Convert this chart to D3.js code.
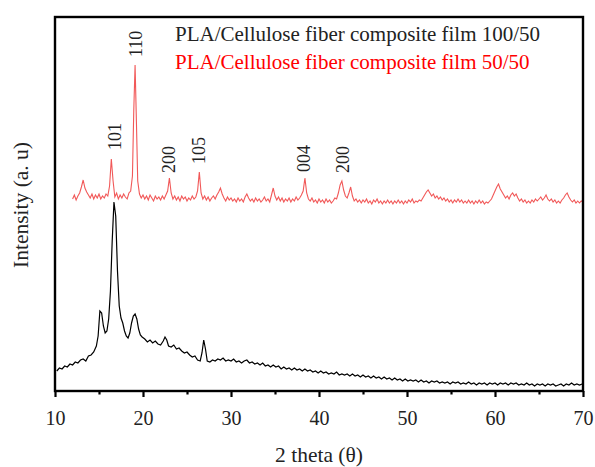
<!DOCTYPE html>
<html><head><meta charset="utf-8">
<script src="https://cdn.jsdelivr.net/npm/d3@7"></script>
<style>body{margin:0;background:#fff}svg{display:block}text{font-family:"Liberation Serif","Times New Roman",serif}</style>
</head><body><svg id="c" width="595" height="467"></svg>
<script>
// ---- data (intensity in arbitrary units, stacked offset included) ----
const xTicks = [10, 20, 30, 40, 50, 60, 70];
const xMinorTicks = [15, 25, 35, 45, 55, 65];
const legendLabels = ["PLA/Cellulose fiber composite film 100/50", "PLA/Cellulose fiber composite film 50/50"];
const peakLabels = ["101", "110", "200", "105", "004", "200"];
const peakLabelTheta = [16.8, 19.15, 22.9, 26.4, 38.35, 42.7];
const peakLabelLevel = [241, 334, 218, 227, 219, 218];

const film100 = [[10.2,20],[10.5,23],[10.8,22],[11.1,25],[11.4,24],[11.7,27],[12.0,26],[12.3,29],[12.6,28],[12.9,31],[13.2,32],[13.5,30],[13.8,35],[14.1,36],[14.4,39],[14.7,45],[14.9,55],[15.1,80],[15.3,78],[15.5,65],[15.7,58],[15.9,60],[16.1,72],[16.3,100],[16.5,150],[16.7,189],[16.9,175],[17.1,120],[17.3,85],[17.5,73],[17.7,68],[17.9,60],[18.1,55],[18.3,53],[18.5,58],[18.7,68],[18.9,75],[19.1,77],[19.3,72],[19.5,62],[19.7,56],[19.9,54],[20.2,52],[20.5,49],[20.8,51],[21.1,48],[21.4,50],[21.7,47],[22.0,46],[22.3,50],[22.5,54],[22.7,51],[22.9,45],[23.2,44],[23.5,46],[23.8,42],[24.1,43],[24.4,40],[24.7,38],[25.0,39],[25.3,36],[25.6,34],[25.9,35],[26.2,31],[26.5,30],[26.7,38],[26.9,51],[27.1,42],[27.3,30],[27.6,29],[27.9,31],[28.2,30],[28.5,32],[28.8,31],[29.1,33],[29.4,30],[29.7,31],[30.0,30],[30.3,32],[30.6,29],[30.9,30],[31.2,28],[31.5,30],[31.8,31],[32.1,28],[32.4,29],[32.7,27],[33.0,28],[33.3,26],[33.6,28],[33.9,25],[34.2,26],[34.5,24],[34.8,26],[35.1,24],[35.4,25],[35.7,22],[36.0,24],[36.3,22],[36.6,23],[36.9,21],[37.2,23],[37.5,21],[37.8,22],[38.1,20],[38.4,22],[38.7,20],[39.0,21],[39.3,19],[39.6,20],[39.9,18],[40.2,20],[40.5,18],[40.8,19],[41.1,17],[41.4,18],[41.7,17],[42.0,19],[42.3,16],[42.6,17],[42.9,16],[43.2,17],[43.5,15],[43.8,17],[44.1,15],[44.4,16],[44.7,14],[45.0,16],[45.3,14],[45.6,15],[45.9,13],[46.2,15],[46.5,13],[46.8,14],[47.1,12],[47.4,14],[47.7,12],[48.0,13],[48.3,11],[48.6,13],[48.9,11],[49.2,12],[49.5,10],[49.8,12],[50.1,10],[50.4,11],[50.7,10],[51.0,11],[51.3,9],[51.6,11],[51.9,9],[52.2,10],[52.5,8],[52.8,10],[53.1,9],[53.4,10],[53.7,8],[54.0,9],[54.3,8],[54.6,9],[54.9,7],[55.2,9],[55.5,8],[55.8,9],[56.1,7],[56.4,8],[56.7,7],[57.0,9],[57.3,7],[57.6,8],[57.9,6],[58.2,8],[58.5,7],[58.8,8],[59.1,6],[59.4,8],[59.7,7],[60.0,8],[60.3,6],[60.6,8],[60.9,7],[61.2,8],[61.5,6],[61.8,8],[62.1,7],[62.4,8],[62.7,6],[63.0,7],[63.3,6],[63.6,8],[63.9,6],[64.2,7],[64.5,5],[64.8,7],[65.1,6],[65.4,7],[65.7,5],[66.0,7],[66.3,6],[66.6,7],[66.9,5],[67.2,6],[67.5,7],[67.8,5],[68.1,7],[68.4,6],[68.7,8],[69.0,6],[69.3,7],[69.6,6],[69.9,7]];

const film50 = [[12.0,192],[12.2,196],[12.4,191],[12.6,195],[12.8,198],[13.0,204],[13.2,211],[13.4,203],[13.6,199],[13.8,196],[14.0,193],[14.2,197],[14.4,192],[14.6,196],[14.8,193],[15.0,197],[15.2,192],[15.4,195],[15.6,193],[15.8,197],[16.0,195],[16.2,205],[16.4,232],[16.6,210],[16.8,194],[17.0,198],[17.2,192],[17.4,196],[17.6,193],[17.8,197],[18.0,194],[18.2,192],[18.4,198],[18.6,200],[18.8,215],[18.95,280],[19.1,326],[19.25,270],[19.4,210],[19.6,197],[19.8,193],[20.0,196],[20.2,192],[20.4,195],[20.6,191],[20.8,196],[21.0,193],[21.2,190],[21.4,195],[21.6,192],[21.8,194],[22.0,191],[22.2,195],[22.4,192],[22.6,196],[22.8,200],[23.0,213],[23.2,198],[23.4,192],[23.6,195],[23.8,191],[24.0,194],[24.2,190],[24.4,195],[24.6,192],[24.8,194],[25.0,190],[25.2,193],[25.4,191],[25.6,195],[25.8,192],[26.0,194],[26.2,200],[26.4,219],[26.6,198],[26.8,192],[27.0,195],[27.2,191],[27.4,194],[27.6,190],[27.8,193],[28.0,195],[28.2,192],[28.4,196],[28.6,199],[28.8,203],[29.0,197],[29.2,193],[29.4,190],[29.6,194],[29.8,191],[30.0,193],[30.2,190],[30.4,192],[30.6,189],[30.8,193],[31.0,190],[31.2,192],[31.4,189],[31.6,194],[31.8,197],[32.0,193],[32.2,190],[32.4,192],[32.6,189],[32.8,193],[33.0,190],[33.2,192],[33.4,189],[33.6,191],[33.8,194],[34.0,190],[34.2,192],[34.4,189],[34.6,196],[34.8,203],[35.0,195],[35.2,191],[35.4,194],[35.6,190],[35.8,193],[36.0,189],[36.2,192],[36.4,190],[36.6,193],[36.8,189],[37.0,192],[37.2,190],[37.4,194],[37.6,191],[37.8,193],[38.0,196],[38.2,200],[38.4,213],[38.6,198],[38.8,192],[39.0,190],[39.2,193],[39.4,189],[39.6,191],[39.8,188],[40.0,192],[40.2,189],[40.4,191],[40.6,188],[40.8,192],[41.0,189],[41.2,191],[41.4,188],[41.6,190],[41.8,193],[42.0,192],[42.2,198],[42.4,206],[42.6,210],[42.8,201],[43.0,195],[43.2,193],[43.4,198],[43.6,204],[43.8,195],[44.0,190],[44.2,192],[44.4,189],[44.6,191],[44.8,188],[45.0,191],[45.2,189],[45.4,192],[45.6,188],[45.8,190],[46.0,187],[46.2,191],[46.4,189],[46.6,192],[46.8,188],[47.0,190],[47.2,187],[47.4,190],[47.6,188],[47.8,191],[48.0,188],[48.2,190],[48.4,187],[48.6,190],[48.8,188],[49.0,191],[49.2,188],[49.4,190],[49.6,187],[49.8,190],[50.0,188],[50.2,191],[50.4,189],[50.6,192],[50.8,188],[51.0,190],[51.2,189],[51.4,191],[51.6,190],[51.8,193],[52.0,196],[52.2,199],[52.4,201],[52.6,198],[52.8,195],[53.0,197],[53.2,193],[53.4,195],[53.6,192],[53.8,194],[54.0,191],[54.2,193],[54.4,190],[54.6,192],[54.8,189],[55.0,191],[55.2,188],[55.4,191],[55.6,189],[55.8,192],[56.0,189],[56.2,191],[56.4,188],[56.6,190],[56.8,188],[57.0,191],[57.2,188],[57.4,190],[57.6,187],[57.8,190],[58.0,188],[58.2,191],[58.4,188],[58.6,190],[58.8,187],[59.0,189],[59.2,188],[59.4,190],[59.6,192],[59.8,196],[60.0,200],[60.2,204],[60.4,207],[60.6,202],[60.8,199],[61.0,196],[61.2,193],[61.4,195],[61.6,192],[61.8,196],[62.0,198],[62.2,195],[62.4,197],[62.6,193],[62.8,190],[63.0,192],[63.2,189],[63.4,191],[63.6,188],[63.8,190],[64.0,188],[64.2,191],[64.4,189],[64.6,192],[64.8,190],[65.0,192],[65.2,194],[65.4,191],[65.6,193],[65.8,196],[66.0,192],[66.2,190],[66.4,192],[66.6,189],[66.8,191],[67.0,188],[67.2,190],[67.4,188],[67.6,191],[67.8,193],[68.0,196],[68.2,198],[68.4,194],[68.6,191],[68.8,189],[69.0,191],[69.2,188],[69.4,190],[69.6,188],[69.8,190],[70.0,189]];

const seriesColors = ["#000000", "#ee3b3b"];
const legendColors = ["#222222", "#ff0000"];

// ---- layout ----
const svg = d3.select("#c");
const L = 55, R = 583, T = 17, B = 391;
const x = d3.scaleLinear().domain([10, 70]).range([L, R]);
const y = d3.scaleLinear().domain([0, 374]).range([B, T]);

const line = d3.line().x(d => x(d[0])).y(d => y(d[1]));

svg.append("path").datum(film50).attr("d", line)
  .attr("fill", "none").attr("stroke", seriesColors[1]).attr("stroke-width", 1.1).attr("stroke-opacity", 0.85);
svg.append("path").datum(film100).attr("d", line)
  .attr("fill", "none").attr("stroke", seriesColors[0]).attr("stroke-width", 1.2);

// frame
svg.append("rect").attr("x", L).attr("y", T).attr("width", R - L).attr("height", B - T)
  .attr("fill", "none").attr("stroke", "#000").attr("stroke-width", 2.4);

// x axis
const xAxis = d3.axisBottom(x).tickValues(xTicks).tickSize(6).tickPadding(14).tickFormat(d3.format("d"));
const gx = svg.append("g").attr("transform", `translate(0,${B})`).call(xAxis);
gx.select(".domain").remove();
gx.selectAll(".tick line").attr("stroke-width", 2.2);
gx.selectAll(".tick text").attr("font-size", 20).attr("fill", "#222")
  .style("font-family", "'Liberation Serif', serif");
const gxm = svg.append("g").attr("transform", `translate(0,${B})`)
  .call(d3.axisBottom(x).tickValues(xMinorTicks).tickSize(3.5).tickFormat(""));
gxm.select(".domain").remove();
gxm.selectAll(".tick line").attr("stroke-width", 2.2);

// axis titles
svg.append("text").attr("x", 319).attr("y", 462).attr("text-anchor", "middle")
  .attr("font-size", 21.5).attr("fill", "#222").text("2 theta (θ)");
svg.append("text").attr("transform", `translate(28,205) rotate(-90)`)
  .attr("text-anchor", "middle").attr("font-size", 21.5).attr("fill", "#222").text("Intensity (a. u)");

// legend
legendLabels.forEach((t, i) => {
  svg.append("text").attr("x", 175).attr("y", 41 + i * 27.5)
    .attr("font-size", 21).attr("fill", legendColors[i]).text(t);
});

// peak labels
peakLabels.forEach((t, i) => {
  svg.append("text")
    .attr("transform", `translate(${x(peakLabelTheta[i]) + 6},${y(peakLabelLevel[i])}) rotate(-90)`)
    .attr("font-size", 18).attr("fill", "#222").text(t);
});
</script></body></html>
